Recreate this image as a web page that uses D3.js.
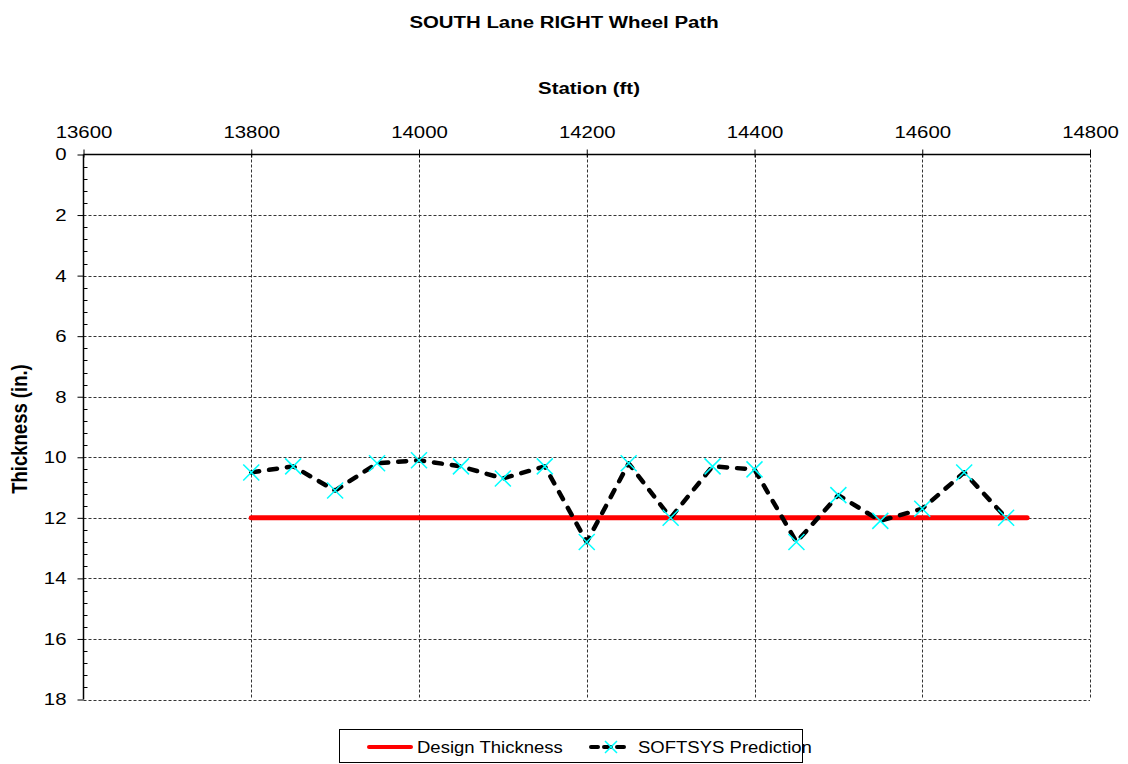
<!DOCTYPE html>
<html>
<head>
<meta charset="utf-8">
<script src="https://cdn.jsdelivr.net/npm/d3@7"></script>
<style>
  html, body { margin: 0; padding: 0; background: #fff; }
  svg { display: block; font-family: Arial, "Liberation Sans", sans-serif; }
</style>
</head>
<body>
<svg id="chart" width="1128" height="764"></svg>
<script>
// Stations along the south lane (ft) and predicted thickness (in.)
const stations = [13800, 13850, 13900, 13950, 14000, 14050, 14100, 14150, 14200, 14250,
                  14300, 14350, 14400, 14450, 14500, 14550, 14600, 14650, 14700];
const predicted = [10.5, 10.3, 11.1, 10.2, 10.1, 10.3, 10.7, 10.3, 12.8, 10.2,
                   12.0, 10.3, 10.4, 12.8, 11.25, 12.1, 11.7, 10.5, 12.0];
// Design thickness segment
const designStations = [13800, 14725];
const designValues = [12, 12];

const xTicks = [13600, 13800, 14000, 14200, 14400, 14600, 14800];
const yTicks = [0, 2, 4, 6, 8, 10, 12, 14, 16, 18];

const svg = d3.select("#chart");
const plotL = 83.5, plotR = 1090, plotT = 154.5, plotB = 699.5;
const SX = 1.2;   // horizontal stretch applied to chart text

const x = d3.scaleLinear().domain([13600, 14800]).range([plotL, plotR]);
const y = d3.scaleLinear().domain([0, 18]).range([plotT, plotB]);

function label(g, tx, ty, str, size, bold, sx, anchor) {
  return g.append("text")
    .attr("transform", "translate(" + tx + "," + ty + ") scale(" + sx + ",1)")
    .attr("text-anchor", anchor || "start")
    .attr("font-size", size).attr("font-weight", bold ? "bold" : "normal")
    .attr("fill", "#000").text(str);
}

// Title and axis titles
label(svg, 564, 28, "SOUTH Lane RIGHT Wheel Path", 17, true, SX, "middle");
label(svg, 589, 94, "Station (ft)", 17, true, SX, "middle");
svg.append("text").attr("transform", "translate(27," + ((plotT + plotB) / 2 + 2) + ") rotate(-90) scale(1,1.15)")
  .attr("text-anchor", "middle").attr("font-size", 18.5).attr("font-weight", "bold")
  .text("Thickness (in.)");

// Gridlines
const grid = svg.append("g").attr("stroke", "#333").attr("stroke-width", 1)
  .attr("stroke-dasharray", "3,2").attr("fill", "none");
yTicks.filter(d => d > 0).forEach(d => {
  grid.append("line").attr("x1", plotL).attr("x2", plotR)
    .attr("y1", Math.round(y(d)) + 0.5).attr("y2", Math.round(y(d)) + 0.5);
});
xTicks.filter(d => d > 13600).forEach(d => {
  grid.append("line").attr("x1", Math.round(x(d)) + 0.5).attr("x2", Math.round(x(d)) + 0.5)
    .attr("y1", plotT).attr("y2", plotB);
});

// Top x axis
const xAxis = d3.axisTop(x).tickValues(xTicks).tickFormat(d3.format("d"))
  .tickSize(5).tickPadding(12);
const gx = svg.append("g").attr("transform", "translate(0," + plotT + ")").call(xAxis);
gx.select(".domain").attr("stroke", "#000").attr("stroke-width", 1.5)
  .attr("d", "M" + plotL + ",0H" + plotR);
gx.selectAll(".tick line").attr("stroke", "#000").attr("y2", -5).attr("y1", 3);
gx.selectAll(".tick text").attr("font-size", 17).attr("fill", "#000")
  .attr("font-family", "Arial, 'Liberation Sans', sans-serif")
  .attr("transform", "scale(" + SX + ",1)");

// Left y axis with minor ticks
const yAxis = d3.axisLeft(y).tickValues(yTicks).tickSize(6).tickPadding(11);
const gy = svg.append("g").attr("transform", "translate(" + plotL + ",0)").call(yAxis);
gy.select(".domain").attr("stroke", "#000").attr("stroke-width", 1.5)
  .attr("d", "M0," + plotT + "V" + plotB);
gy.selectAll(".tick line").attr("stroke", "#000");
gy.selectAll(".tick text").attr("font-size", 17).attr("fill", "#000")
  .attr("font-family", "Arial, 'Liberation Sans', sans-serif")
  .attr("x", -17 / SX).attr("transform", "scale(" + SX + ",1)");
const minor = d3.range(0, 18, 0.4).filter(v => Math.abs(v / 2 - Math.round(v / 2)) > 1e-6);
gy.selectAll(".minor").data(minor).enter().append("line").attr("class", "minor")
  .attr("x1", 0).attr("x2", 4)
  .attr("y1", d => Math.round(y(d)) + 0.5).attr("y2", d => Math.round(y(d)) + 0.5)
  .attr("stroke", "#000");

// Design thickness line
const line = d3.line().x(d => x(d[0])).y(d => y(d[1]));
svg.append("path").datum(designStations.map((s, i) => [s, designValues[i]]))
  .attr("d", line).attr("fill", "none").attr("stroke", "#ff0000")
  .attr("stroke-width", 5).attr("stroke-linecap", "round");

// Predicted thickness line
const pts = stations.map((s, i) => [s, predicted[i]]);
svg.append("path").datum(pts).attr("d", line).attr("fill", "none")
  .attr("stroke", "#000").attr("stroke-width", 4.5)
  .attr("stroke-dasharray", "8,10").attr("stroke-linecap", "round")
  .attr("stroke-linejoin", "round");

// Cross markers
const m = 8;
svg.append("g").selectAll("path").data(pts).enter().append("path")
  .attr("d", d => {
    const cx = x(d[0]), cy = y(d[1]);
    return "M" + (cx - m) + "," + (cy - m) + "L" + (cx + m) + "," + (cy + m) +
           "M" + (cx - m) + "," + (cy + m) + "L" + (cx + m) + "," + (cy - m);
  })
  .attr("stroke", "#00ffff").attr("stroke-width", 1.5).attr("fill", "none");

// Legend
const lg = svg.append("g");
lg.append("rect").attr("x", 339.5).attr("y", 729.5).attr("width", 463).attr("height", 33)
  .attr("fill", "#fff").attr("stroke", "#000").attr("stroke-width", 1);
lg.append("line").attr("x1", 369).attr("x2", 411).attr("y1", 747).attr("y2", 747)
  .attr("stroke", "#ff0000").attr("stroke-width", 4).attr("stroke-linecap", "round");
label(lg, 417, 753, "Design Thickness", 17, false, 1.09, "start");
lg.append("line").attr("x1", 591).attr("x2", 630).attr("y1", 747).attr("y2", 747)
  .attr("stroke", "#000").attr("stroke-width", 4).attr("stroke-dasharray", "7,6")
  .attr("stroke-linecap", "round");
lg.append("path").attr("d", "M605,741L617,753M605,753L617,741")
  .attr("stroke", "#00ffff").attr("stroke-width", 1.5);
label(lg, 638, 753, "SOFTSYS Prediction", 17, false, 1.09, "start");
</script>
</body>
</html>
